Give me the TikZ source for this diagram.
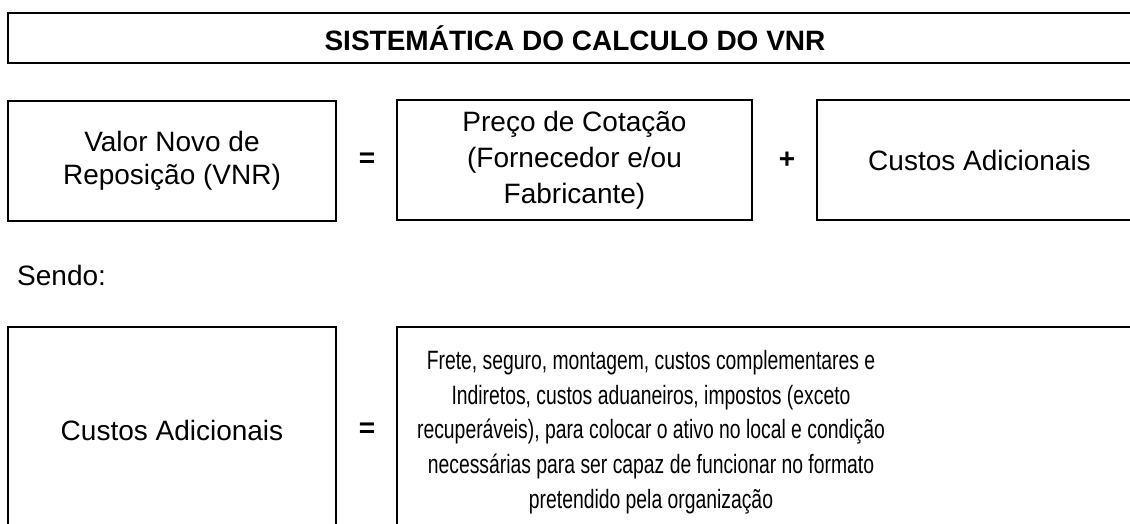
\documentclass[tikz,border=0pt]{standalone}
\usepackage{fontspec}
\setmainfont{Liberation Sans}
\newfontfamily\condsans[FakeStretch=0.73]{Liberation Sans}

\begin{document}
\begin{tikzpicture}[x=1pt, y=-1pt,
        box/.style={draw, line width=2.3pt, inner sep=0pt, align=center, font=\fontsize{28}{33}\selectfont},
        sign/.style={font=\fontsize{28}{34}\selectfont\bfseries}
    ]
      \useasboundingbox (0,0) rectangle (1130,524);
      \clip (0,0) rectangle (1130,524);

      % Title
      \node[box, minimum width=1134pt, minimum height=50pt, font=\fontsize{28}{34}\selectfont\bfseries] (title) at (575,38) {SISTEMÁTICA DO CALCULO DO VNR};

      % VNR = Preco + Custos
      \node[box, minimum width=328pt, minimum height=120pt] (vnr) at (172,161) {Valor Novo de\\Reposição (VNR)};
      \node[sign] (eq1) at (367,160) {=};
      \node[box, minimum width=355pt, minimum height=120pt, font=\fontsize{28}{36}\selectfont] (preco) at (574.5,160) {Preço de Cotação\\(Fornecedor e/ou\\Fabricante)};
      \node[sign] (plus) at (787,160) {+};
      \node[box, minimum width=325pt, minimum height=120pt] (adic) at (979.5,160) {Custos Adicionais};

      \node[anchor=west, inner sep=0pt, font=\fontsize{28}{34}\selectfont] (sendo) at (17,275) {Sendo:};

      % Custos Adicionais = definicao
      \node[box, minimum width=328pt, minimum height=206pt] (custos) at (172,430) {Custos Adicionais};
      \node[sign] (eq2) at (367,430) {=};
      \node[box, minimum width=745pt, minimum height=206pt] (defin) at (769.5,430) {};
      \node[align=center, inner sep=0pt, font=\condsans\fontsize{26.5}{34.7}\selectfont] (defintxt) at (651,432)
        {Frete, seguro, montagem, custos complementares e\\Indiretos, custos aduaneiros, impostos (exceto\\recuperáveis), para colocar o ativo no local e condição\\necessárias para ser capaz de funcionar no formato\\pretendido pela organização};
    \end{tikzpicture}
\end{document}
